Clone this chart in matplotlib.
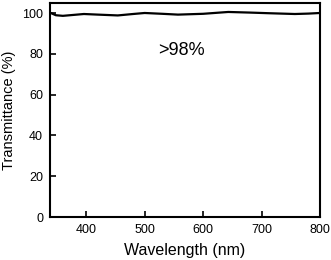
import matplotlib
matplotlib.use("Agg")
import matplotlib.pyplot as plt
import numpy as np

plt.rcParams['font.family'] = ['Liberation Sans', 'DejaVu Sans']

# transmittance spectrum
wavelength = [340, 348, 360, 380, 396, 420, 454, 480, 500, 530, 557, 600, 643, 680, 711, 757, 780, 800]
transmit = [100.0, 99.0, 98.7, 99.2, 99.6, 99.3, 98.9, 99.6, 100.1, 99.7, 99.3, 99.7, 100.6, 100.3, 100.0, 99.6, 99.8, 100.1]
label_text = ">98%"

fig = plt.figure(figsize=(3.31, 2.6), dpi=100)
ax = fig.add_axes([50/331, 1 - 217/260, 270/331, 214/260])
ax.plot(wavelength, transmit, color='black', lw=1.6)
ax.set_xlim(338, 800)
ax.set_ylim(0, 105)
ax.set_xticks([400, 500, 600, 700, 800])
ax.set_yticks([0, 20, 40, 60, 80, 100])
ax.tick_params(direction='in', length=4, width=1.2, labelsize=9, pad=5)
for s in ax.spines.values():
    s.set_linewidth(1.5)
ax.text(563, 81.5, label_text, fontsize=13, ha='center', va='center')
ax.set_xlabel("Wavelength (nm)", fontsize=11.5, labelpad=5)
ax.set_ylabel("Transmittance (%)", fontsize=10.5)
fig.savefig("out.png", dpi=100)
